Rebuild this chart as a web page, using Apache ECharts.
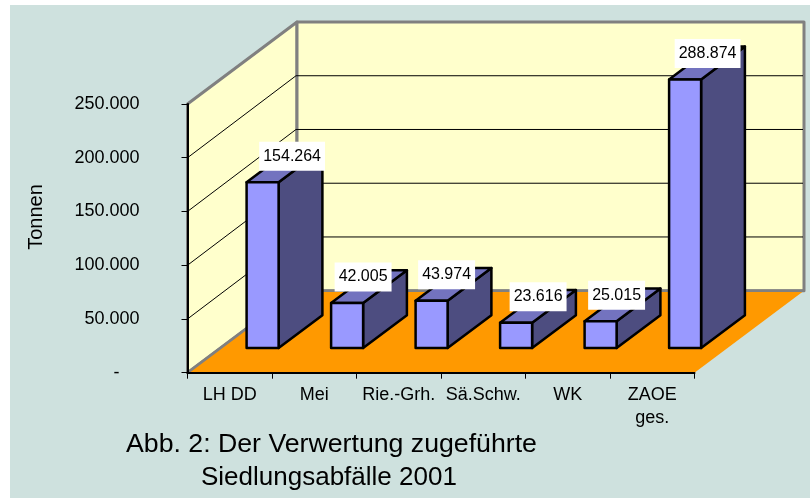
<!DOCTYPE html>
<html><head><meta charset="utf-8">
<style>html,body{margin:0;padding:0;background:#fff}#c{width:810px;height:498px}</style>
<script src="https://cdn.jsdelivr.net/npm/echarts@6/dist/echarts.min.js"></script>
</head><body><div id="c"></div>
<script>
const categories = ['LH DD','Mei','Rie.-Grh.','Sä.Schw.','WK','ZAOE\nges.'];
const tonnes = [154264,42005,43974,23616,25015,288874];
const yMax = 250000;
const yStep = 50000;
const yTicks = [50000,100000,150000,200000];
const labelShiftX = [13.5,0,-1,6,0,6.5];

const FONT = '"Liberation Sans", Arial, sans-serif';
const DEPTH_X = 109.5, DEPTH_Y = 82;
const BAR_START = 0.3, BAR_DEPTH = 0.4, BAR_W = 32;
const fmt = v => String(v).replace(/\B(?=(\d{3})+$)/g,'.');

const chart = echarts.init(document.getElementById('c'), null, {renderer:'canvas'});

function poly(points, fill, stroke, lw){
  return {type:'polygon', shape:{points}, style:{fill, stroke, lineWidth:lw, lineJoin:'round'}};
}
function renderRoom(params, api){
  const cs = params.coordSys;
  const l = cs.x, r = cs.x+cs.width, t = cs.y, b = cs.y+cs.height;
  const dx = DEPTH_X, dy = DEPTH_Y, G = '#808080';
  const children = [
    poly([[l,b],[l+dx,b-dy],[l+dx,t-dy],[l,t]], '#FFFFCC', G, 3),
    poly([[l+dx,b-dy],[r+dx,b-dy],[r+dx,t-dy],[l+dx,t-dy]], '#FFFFCC', G, 3),
    poly([[l,b],[r,b],[r+dx,b-dy],[l+dx,b-dy]], '#FF9900', null, 0),
    {type:'polyline', shape:{points:[[l,b],[l+dx,b-dy],[r+dx,b-dy]]}, style:{fill:null, stroke:G, lineWidth:2.5}}
  ];
  yTicks.forEach(v=>{
    const y = api.coord([0,v])[1];
    children.push({type:'polyline', shape:{points:[[l,y],[l+dx-1,y-dy],[r+dx-1,y-dy]]},
      style:{fill:null, stroke:'#000', lineWidth:1}});
  });
  return {type:'group', children};
}
function renderBar(params, api){
  const i = api.value(0), v = Math.min(api.value(1), yMax);
  const cx = api.coord([i,0])[0], y0 = api.coord([i,0])[1], y1 = api.coord([i,v])[1];
  const ox = DEPTH_X*BAR_START, oy = DEPTH_Y*BAR_START;
  const ddx = DEPTH_X*BAR_DEPTH, ddy = DEPTH_Y*BAR_DEPTH;
  const a = cx+ox-BAR_W/2, c = cx+ox+BAR_W/2, bot = y0-oy, top = y1-oy;
  const K = '#000', W = 2.5;
  return {type:'group', children:[
    poly([[c,bot],[c+ddx,bot-ddy],[c+ddx,top-ddy],[c,top]], '#4D4D80', K, W),
    poly([[a,top],[c,top],[c+ddx,top-ddy],[a+ddx,top-ddy]], '#7373BF', K, W),
    poly([[a,bot],[c,bot],[c,top],[a,top]], '#9999FF', K, W)
  ]};
}
function renderLabel(params, api){
  const i = api.value(0), v = Math.min(api.value(1), yMax);
  const p = api.coord([i,v]);
  const x = p[0] + DEPTH_X*BAR_START + BAR_W/2 + labelShiftX[i];
  const y = p[1] - DEPTH_Y*BAR_START - 26;
  return {type:'text', style:{x, y, text:fmt(api.value(1)), align:'center', verticalAlign:'middle',
    font:'16px '+FONT, fill:'#000', backgroundColor:'#fff', padding:[7,4,6,4]}};
}
const barData = tonnes.map((v,i)=>[i,v]);
chart.setOption({
  animation:false,
  backgroundColor:'#fff',
  graphic:[
    {type:'rect', z:-100, shape:{x:10,y:5,width:800,height:493}, style:{fill:'#CEE1DE'}},
    {type:'text', z:10, x:36, y:217, rotation:Math.PI/2,
      style:{text:'Tonnen', font:'20px '+FONT, fill:'#000', align:'center', verticalAlign:'middle'}}
  ],
  title:[
    {text:'Abb. 2: Der Verwertung zugeführte', left:126, top:431, padding:0,
      textStyle:{fontFamily:FONT, fontSize:26.7, fontWeight:'normal', color:'#000'}},
    {text:'Siedlungsabfälle 2001', left:201, top:465, padding:0,
      textStyle:{fontFamily:FONT, fontSize:26, fontWeight:'normal', color:'#000'}}
  ],
  grid:{left:187.5, width:507, top:104, height:268.7},
  xAxis:{type:'category', data:categories, z:5,
    axisLine:{lineStyle:{color:'#000',width:2}},
    axisTick:{show:true, length:6, alignWithLabel:false, lineStyle:{color:'#000',width:1}, interval:0},
    axisLabel:{interval:0, hideOverlap:false, margin:11, fontFamily:FONT, fontSize:18, color:'#000', lineHeight:23},
    splitLine:{show:false}},
  yAxis:{type:'value', min:0, max:yMax, interval:yStep, z:5,
    axisLine:{show:true, lineStyle:{color:'#000',width:2}},
    axisTick:{show:true, length:6, lineStyle:{color:'#000',width:1}},
    axisLabel:{margin:48, fontFamily:FONT, fontSize:18, color:'#000',
      formatter:v=> v===0 ? '-    ' : fmt(v)},
    splitLine:{show:false}},
  series:[
    {type:'custom', z:1, silent:true, clip:false, renderItem:renderRoom, data:[[0,0]], encode:{x:0,y:1}},
    {type:'custom', z:3, silent:true, clip:false, renderItem:renderBar, data:barData, encode:{x:0,y:1}},
    {type:'custom', z:4, silent:true, clip:false, renderItem:renderLabel, data:barData, encode:{x:0,y:1}}
  ]
});
</script></body></html>
